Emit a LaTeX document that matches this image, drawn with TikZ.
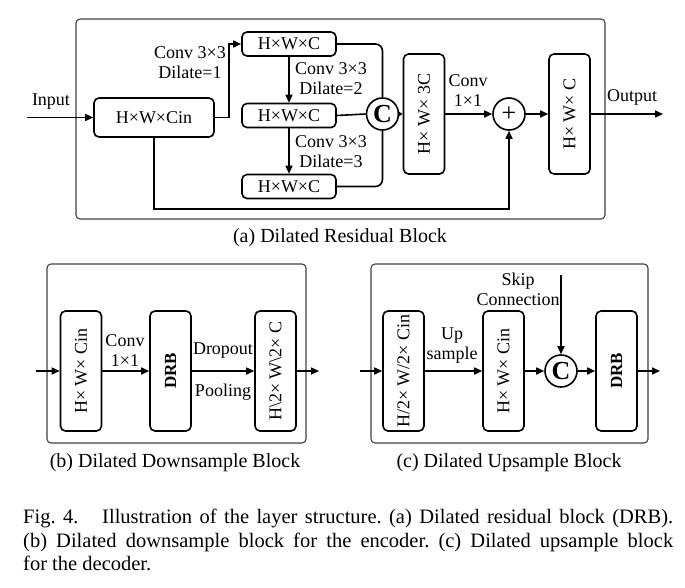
\documentclass[tikz,border=0pt]{standalone}
\usepackage{fontspec}
\setmainfont{Liberation Serif}
\usetikzlibrary{arrows.meta,calc}
\frenchspacing
\begin{document}
\begin{tikzpicture}[x=1pt,y=-1pt,
  outerbox/.style={draw=black!75,line width=1.1pt,rounded corners=4pt},
  hbox/.style={draw,line width=1.6pt,rounded corners=5pt,minimum width=94pt,minimum height=24pt,inner sep=0pt,font=\fontsize{18}{20}\selectfont},
  vbox/.style={draw,line width=1.6pt,rounded corners=5pt,minimum width=41pt,minimum height=120pt,inner sep=0pt,font=\fontsize{18}{20}\selectfont},
  opcirc/.style={draw,circle,line width=1.6pt,minimum size=32pt,inner sep=0pt},
  arr/.style={line width=1.6pt,-{Triangle[length=8pt,width=7pt]}},
  conn/.style={line width=1.6pt},
  lbl/.style={font=\fontsize{18}{20}\selectfont,align=center,inner sep=0pt},
  subcap/.style={font=\fontsize{20}{22}\selectfont,inner sep=0pt}
]
\useasboundingbox (0,0) rectangle (685,587);
% ---------- (a) ----------
\draw[outerbox] (76,19) rectangle (605,219);
\node[hbox,minimum width=120pt,minimum height=39pt] (cin) at (154,117.5) {H×W×Cin};
\node[hbox] (b1) at (289,44) {H×W×C};
\node[hbox] (b2) at (289,115.5) {H×W×C};
\node[hbox] (b3) at (289,186.5) {H×W×C};
\node[opcirc,font=\fontsize{26}{26}\selectfont\bfseries] (catA) at (382.5,114) {C};
\node[vbox] (c3) at (424,114) {\rotatebox{90}{H× W× 3C}};
\node[opcirc,font=\fontsize{26}{26}\selectfont] (plus) at (509,114) {+};
\node[vbox] (outA) at (569.5,114) {\rotatebox{90}{H× W× C}};
\coordinate (inA) at (27,117.5);
\coordinate (endA) at (663,114);
\coordinate (skipA) at (154,209);
\draw[arr] (inA) -- (cin.west);
\node[lbl] (tin) at (51,102) {Input};
\draw[arr] (cin.east) -- ++(14,0) |- (b1.west);
\draw[arr] (b1.south) -- (b2.north);
\draw[arr] (b2.south) -- (b3.north);
\draw[conn,rounded corners=7pt] (b1.east) -| (catA.north);
\draw[conn,rounded corners=7pt] (b3.east) -| (catA.south);
\draw[conn] (b2.east) -- (catA.west);
\draw[line width=1.6pt,-{Triangle[length=5pt,width=6pt]}] (catA.east) -- (c3.west);
\draw[arr] (c3.east) -- (plus.west);
\draw[arr] (plus.east) -- (outA.west);
\draw[arr] (outA.east) -- (endA);
\draw[arr] (cin.south) -- (skipA) -| (plus.south);
\node[lbl] (l1) at (190,63) {Conv 3×3\\Dilate=1};
\node[lbl] (l2) at (331,79) {Conv 3×3\\Dilate=2};
\node[lbl] (l3) at (331,151.5) {Conv 3×3\\Dilate=3};
\node[lbl] (l4) at (468,91) {Conv\\1×1};
\node[lbl] (tout) at (632,97) {Output};
\node[subcap] (capA) at (340,238) {(a) Dilated Residual Block};
% ---------- (b) ----------
\draw[outerbox] (47,264) rectangle (306,443);
\node[vbox] (bb1) at (81,371) {\rotatebox{90}{H× W× Cin}};
\node[vbox,font=\fontsize{17}{20}\selectfont\bfseries] (drb1) at (170.5,371) {\rotatebox{90}{DRB}};
\node[vbox] (bb3) at (275.5,371) {\rotatebox{90}{H\textbackslash 2× W\textbackslash 2× C}};
\coordinate (inB) at (36,371);
\coordinate (endB) at (319,371);
\draw[arr] (inB) -- (bb1.west);
\draw[arr] (bb1.east) -- (drb1.west);
\draw[arr] (drb1.east) -- (bb3.west);
\draw[arr] (bb3.east) -- (endB);
\node[lbl] (l5) at (125,351) {Conv\\1×1};
\node[lbl] (l6) at (223,351) {Dropout};
\node[lbl] (l7) at (223,392) {Pooling};
\node[subcap] (capB) at (175,463) {(b) Dilated Downsample Block};
% ---------- (c) ----------
\draw[outerbox] (371,264) rectangle (648,443);
\node[vbox] (cb1) at (403.5,371) {\rotatebox{90}{H/2× W/2× Cin}};
\node[vbox] (cb2) at (503.5,371) {\rotatebox{90}{H× W× Cin}};
\node[opcirc,font=\fontsize{26}{26}\selectfont\bfseries] (catC) at (561,371) {C};
\node[vbox,font=\fontsize{17}{20}\selectfont\bfseries] (drb2) at (616.5,371) {\rotatebox{90}{DRB}};
\coordinate (inC) at (360,371);
\coordinate (endC) at (660,371);
\coordinate (skipC) at (561,275);
\draw[arr] (inC) -- (cb1.west);
\draw[arr] (cb1.east) -- (cb2.west);
\draw[arr] (cb2.east) -- (catC.west);
\draw[arr] (skipC) -- (catC.north);
\draw[arr] (catC.east) -- (drb2.west);
\draw[arr] (drb2.east) -- (endC);
\node[lbl] (l8) at (452,346) {Up\\sample};
\node[lbl] (l9) at (518,289.5) {Skip\\Connection};
\node[subcap] (capC) at (509,463) {(c) Dilated Upsample Block};
% ---------- figure caption ----------
\node[anchor=north west,inner sep=0pt,text width=650pt,align=justify,font=\fontsize{20.5}{23.5}\selectfont] (fig) at (23,509)
 {Fig. 4.\hspace{0.8em} Illustration of the layer structure. (a) Dilated residual block (DRB).\linebreak (b) Dilated downsample block for the encoder. (c) Dilated upsample block\linebreak for the decoder.};
\end{tikzpicture}
\end{document}
